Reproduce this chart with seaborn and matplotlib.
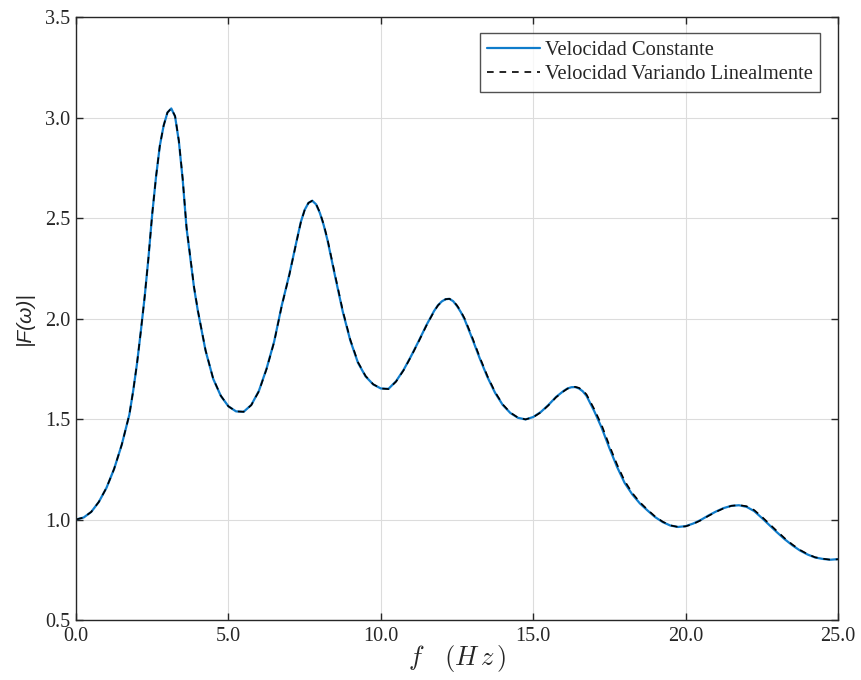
import numpy as np
import pandas as pd
import matplotlib
matplotlib.use("Agg")
import matplotlib.pyplot as plt
import seaborn as sns

# ---- data ----
freq = [
    0.0, 0.25, 0.5, 0.75, 1.0, 1.25, 1.5, 1.75, 1.875, 2.0,
    2.125, 2.25, 2.375, 2.5, 2.625, 2.75, 2.875, 3.0, 3.125, 3.25,
    3.375, 3.5, 3.625, 3.75, 3.875, 4.0, 4.25, 4.5, 4.75, 5.0,
    5.25, 5.5, 5.75, 6.0, 6.25, 6.5, 6.75, 7.0, 7.25, 7.375,
    7.5, 7.625, 7.75, 7.875, 8.0, 8.125, 8.25, 8.5, 8.75, 9.0,
    9.25, 9.5, 9.75, 10.0, 10.25, 10.5, 10.75, 11.0, 11.25, 11.5,
    11.75, 11.875, 12.0, 12.125, 12.25, 12.375, 12.5, 12.625, 12.75, 13.0,
    13.25, 13.5, 13.75, 14.0, 14.25, 14.5, 14.75, 15.0, 15.25, 15.5,
    15.75, 16.0, 16.125, 16.25, 16.375, 16.5, 16.625, 16.75, 17.0, 17.25,
    17.5, 17.75, 18.0, 18.25, 18.5, 18.75, 19.0, 19.25, 19.5, 19.75,
    20.0, 20.25, 20.5, 20.75, 21.0, 21.25, 21.5, 21.75, 22.0, 22.25,
    22.5, 22.75, 23.0, 23.25, 23.5, 23.75, 24.0, 24.25, 24.5, 24.75,
    25.0,
]

vel_constante = [
    1.000, 1.010, 1.038, 1.088, 1.158, 1.252, 1.372, 1.522, 1.640, 1.775,
    1.935, 2.105, 2.300, 2.520, 2.705, 2.860, 2.960, 3.025, 3.045, 3.005,
    2.880, 2.690, 2.450, 2.300, 2.150, 2.035, 1.840, 1.700, 1.615, 1.563,
    1.538, 1.536, 1.570, 1.640, 1.750, 1.885, 2.065, 2.220, 2.395, 2.480,
    2.540, 2.575, 2.586, 2.568, 2.525, 2.465, 2.390, 2.210, 2.035, 1.890,
    1.780, 1.712, 1.672, 1.652, 1.650, 1.688, 1.745, 1.815, 1.890, 1.968,
    2.038, 2.066, 2.085, 2.096, 2.098, 2.086, 2.062, 2.032, 1.995, 1.900,
    1.800, 1.708, 1.630, 1.570, 1.530, 1.506, 1.498, 1.510, 1.535, 1.570,
    1.610, 1.640, 1.652, 1.658, 1.659, 1.652, 1.638, 1.615, 1.540, 1.455,
    1.355, 1.262, 1.182, 1.125, 1.080, 1.045, 1.012, 0.987, 0.970, 0.963,
    0.967, 0.980, 0.998, 1.020, 1.040, 1.057, 1.068, 1.071, 1.063, 1.042,
    1.008, 0.972, 0.936, 0.902, 0.872, 0.846, 0.826, 0.811, 0.804, 0.800,
    0.803,
]

vel_lineal = [
    1.000, 1.010, 1.038, 1.088, 1.158, 1.252, 1.372, 1.522, 1.640, 1.775,
    1.935, 2.105, 2.300, 2.520, 2.705, 2.860, 2.960, 3.025, 3.045, 3.007,
    2.884, 2.695, 2.456, 2.305, 2.154, 2.038, 1.842, 1.701, 1.616, 1.563,
    1.538, 1.536, 1.569, 1.638, 1.748, 1.883, 2.063, 2.218, 2.393, 2.478,
    2.539, 2.575, 2.586, 2.570, 2.528, 2.469, 2.395, 2.216, 2.040, 1.894,
    1.783, 1.714, 1.673, 1.652, 1.649, 1.686, 1.743, 1.813, 1.888, 1.966,
    2.036, 2.065, 2.084, 2.096, 2.098, 2.088, 2.065, 2.036, 2.000, 1.906,
    1.806, 1.713, 1.634, 1.573, 1.532, 1.507, 1.498, 1.509, 1.533, 1.568,
    1.608, 1.638, 1.651, 1.658, 1.660, 1.655, 1.643, 1.622, 1.550, 1.468,
    1.368, 1.274, 1.192, 1.132, 1.086, 1.049, 1.015, 0.989, 0.971, 0.963,
    0.966, 0.978, 0.996, 1.018, 1.038, 1.056, 1.068, 1.072, 1.066, 1.047,
    1.014, 0.978, 0.942, 0.907, 0.876, 0.849, 0.828, 0.812, 0.805, 0.800,
    0.802,
]

label_a = "Velocidad Constante"
label_b = "Velocidad Variando Linealmente"

xticks = [0, 5, 10, 15, 20, 25]
yticks = [0.5, 1.0, 1.5, 2.0, 2.5, 3.0, 3.5]

# ---- style ----
sns.set_theme(style="white")
plt.rcParams["font.family"] = ["Liberation Serif", "DejaVu Serif"]
plt.rcParams["mathtext.fontset"] = "cm"

fig = plt.figure(figsize=(8.61, 6.80), dpi=100)
ax = fig.add_axes([0.0883, 0.0882, 0.885, 0.8868])

df = pd.DataFrame({"f": freq, "a": vel_constante, "b": vel_lineal})
sns.lineplot(data=df, x="f", y="a", ax=ax, color="#0F7CCB", linewidth=1.6,
             label=label_a)
sns.lineplot(data=df, x="f", y="b", ax=ax, color="black", linewidth=1.2,
             linestyle=(0, (4, 3.5)), label=label_b)

ax.set_xlim(0, 25)
ax.set_ylim(0.5, 3.5)
ax.set_xticks(xticks)
ax.set_yticks(yticks)
ax.set_xticklabels([f"{v:.1f}" for v in xticks])
ax.set_yticklabels([f"{v:.1f}" for v in yticks])

ax.grid(True, color="#dcdcdc", linewidth=0.8)
ax.tick_params(direction="in", length=5, width=1, colors="#262626",
               labelsize=14.5, top=True, right=True, bottom=True, left=True,
               labelcolor="#262626")
ax.tick_params(axis="x", pad=5)
ax.tick_params(axis="y", pad=4)
for s in ax.spines.values():
    s.set_color("#262626")
    s.set_linewidth(1.0)
    s.set_visible(True)

ax.set_xlabel(r"$f\ \ \ (H\,z\,)$", fontsize=19, color="#262626",
              labelpad=-2)
ax.set_ylabel("|F(ω)|", fontsize=15, color="#262626",
              family=["Liberation Sans", "DejaVu Sans"], fontstyle="italic",
              labelpad=8)

leg = ax.legend(loc="upper right", bbox_to_anchor=(0.977, 0.973),
                borderaxespad=0, fontsize=14.8, frameon=True, fancybox=False,
                edgecolor="#262626", handlelength=2.6, handletextpad=0.25,
                borderpad=0.35, labelspacing=0.25)
leg.get_frame().set_linewidth(1.0)

fig.savefig("out.png", dpi=100)
